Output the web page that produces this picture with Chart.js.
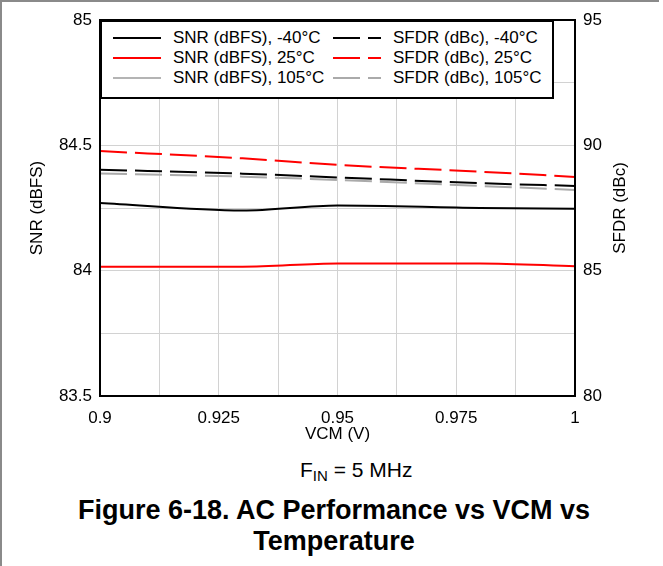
<!DOCTYPE html>
<html>
<head>
<meta charset="utf-8">
<script src="https://cdn.jsdelivr.net/npm/chart.js@4"></script>
<style>
  html, body { margin: 0; padding: 0; background: #fff; }
  body { width: 663px; height: 566px; position: relative; overflow: hidden; font-family: "Liberation Sans", Arial, sans-serif; color: #000; }
  #edgeTop { position: absolute; left: 0; top: 0; width: 659px; height: 2px; background: #8a8a8a; }
  #edgeLeft { position: absolute; left: 0; top: 0; width: 2px; height: 566px; background: #8a8a8a; }
  #chart { position: absolute; left: 0; top: 0; }
  #legend { position: absolute; left: 100px; top: 20px; width: 454px; height: 79px; border: 2px solid #000; box-sizing: border-box; background: #fff; }
  .lg-item { position: absolute; height: 20px; display: flex; align-items: center; font-size: 17px; white-space: nowrap; }
  .lg-item svg { margin-right: 12px; }
  #fin { position: absolute; left: 300px; top: 458px; font-size: 21px; line-height: 24px; white-space: nowrap; }
  #fin sub { font-size: 15px; vertical-align: -4px; line-height: 0; }
  #caption { position: absolute; left: 0; top: 495px; width: 668px; text-align: center; font-weight: bold; font-size: 27px; line-height: 31px; }
</style>
</head>
<body>
<div id="edgeTop"></div>
<div id="edgeLeft"></div>
<canvas id="chart" width="663" height="450"></canvas>
<div id="legend"></div>
<div id="fin">F<sub>IN</sub> = 5 MHz</div>
<div id="caption">Figure 6-18. AC Performance vs VCM vs<br>Temperature</div>
<script>
// ================================================================
//  DATA
// ================================================================
const vcm = [0.9, 0.93, 0.95, 0.98, 1.0];

// SNR (dBFS), left axis
const snrM40 = [84.27, 84.24, 84.26, 84.25, 84.247];
const snr25  = [84.016, 84.016, 84.029, 84.029, 84.018];
const snr105 = [null, null, null, null, null]; // not visible inside the plotted range

// SFDR (dBc), right axis
const sfdrM40 = [89.03, 88.87, 88.72, 88.49, 88.38];
const sfdr25  = [89.77, 89.48, 89.22, 88.95, 88.74];
const sfdr105 = [88.88, 88.75, 88.62, 88.38, 88.22];

const xTickLabels  = ['0.9', '0.925', '0.95', '0.975', '1'];
const yTickLabels  = ['83.5', '84', '84.5', '85'];
const y2TickLabels = ['80', '85', '90', '95'];

const xTitle = 'VCM (V)';
const yTitle = 'SNR (dBFS)';
const y2Title = 'SFDR (dBc)';

// ================================================================
//  CHART
// ================================================================
const FONT = '"Liberation Sans", Arial, sans-serif';
Chart.defaults.font.family = FONT;
Chart.defaults.font.size = 17;
Chart.defaults.color = '#000';

const GRID = '#d2d2d2';
const DASH = [27, 8];

function pts(ys) {
  return vcm.map((x, i) => ({ x: x, y: ys[i] }));
}

function series(label, ys, color, dashed, axis) {
  return {
    label: label,
    data: pts(ys),
    borderColor: color,
    borderWidth: 2,
    borderDash: dashed ? DASH : [],
    pointRadius: 0,
    cubicInterpolationMode: 'monotone',
    fill: false,
    yAxisID: axis,
    spanGaps: false
  };
}

// frame around the plot area
const framePlugin = {
  id: 'frame',
  afterDatasetsDraw(chart) {
    const { ctx, chartArea: a } = chart;
    ctx.save();
    ctx.strokeStyle = '#000';
    ctx.lineWidth = 2;
    ctx.strokeRect(a.left, a.top, a.right - a.left, a.bottom - a.top);
    ctx.restore();
  }
};

// right axis title, reading bottom-to-top like the left one
const rightTitlePlugin = {
  id: 'rightTitle',
  afterDraw(chart) {
    const { ctx, chartArea: a } = chart;
    const s = chart.scales.y2;
    ctx.save();
    ctx.translate(s.right - 43, (a.top + a.bottom) / 2);
    ctx.rotate(-Math.PI / 2);
    ctx.font = '17px ' + FONT;
    ctx.fillStyle = '#000';
    ctx.textAlign = 'center';
    ctx.textBaseline = 'middle';
    ctx.fillText(y2Title, 0, 0);
    ctx.restore();
  }
};

const chart = new Chart(document.getElementById('chart').getContext('2d'), {
  type: 'line',
  data: {
    datasets: [
      series('SNR (dBFS), -40°C', snrM40, '#000000', false, 'y'),
      series('SNR (dBFS), 25°C', snr25, '#ff0000', false, 'y'),
      series('SNR (dBFS), 105°C', snr105, '#b4b4b4', false, 'y'),
      series('SFDR (dBc), -40°C', sfdrM40, '#000000', true, 'y2'),
      series('SFDR (dBc), 25°C', sfdr25, '#ff0000', true, 'y2'),
      series('SFDR (dBc), 105°C', sfdr105, '#aaaaaa', true, 'y2')
    ]
  },
  options: {
    responsive: false,
    animation: false,
    layout: { padding: { top: 20, left: 0, right: 0, bottom: 0 } },
    plugins: { legend: { display: false }, tooltip: { enabled: false } },
    scales: {
      x: {
        type: 'linear', min: 0.9, max: 1.0,
        grid: { color: GRID, lineWidth: 1, drawTicks: false },
        border: { display: false },
        ticks: {
          stepSize: 0.0125, autoSkip: false, maxRotation: 0, padding: 12,
          callback: (v, i) => (i % 2 === 0 ? xTickLabels[i / 2] : '')
        },
        title: { display: true, text: xTitle, padding: { top: 0, bottom: 5 } },
        afterFit: s => { s.height = 54; }
      },
      y: {
        position: 'left', min: 83.5, max: 85,
        grid: { color: GRID, lineWidth: 1, drawTicks: false },
        border: { display: false },
        ticks: {
          stepSize: 0.25, autoSkip: false, padding: 8,
          callback: (v, i) => (i % 2 === 0 ? yTickLabels[i / 2] : '')
        },
        title: { display: true, text: yTitle, padding: { top: 27, bottom: 0 } },
        afterFit: s => { s.width = 100; }
      },
      y2: {
        position: 'right', min: 80, max: 95,
        grid: { display: false, drawTicks: false },
        border: { display: false },
        ticks: {
          stepSize: 5, autoSkip: false, padding: 8,
          callback: (v, i) => y2TickLabels[i]
        },
        afterFit: s => { s.width = 88; }
      }
    }
  },
  plugins: [framePlugin, rightTitlePlugin]
});

// ================================================================
//  LEGEND (boxed, two columns: SNR left, SFDR right)
// ================================================================
const lgCols = [11, 231];
const lgRows = [6, 26, 46];
document.getElementById('legend').innerHTML = chart.data.datasets.map((d, i) => {
  const col = Math.floor(i / 3), row = i % 3;
  const dash = d.borderDash.length ? `stroke-dasharray="${d.borderDash.join(' ')}"` : '';
  return `<div class="lg-item" style="left:${lgCols[col]}px;top:${lgRows[row]}px">
    <svg width="48" height="4"><line x1="0" y1="2" x2="48" y2="2" stroke="${d.borderColor}" stroke-width="2" ${dash}/></svg>
    <span>${d.label}</span>
  </div>`;
}).join('');
</script>
</body>
</html>
